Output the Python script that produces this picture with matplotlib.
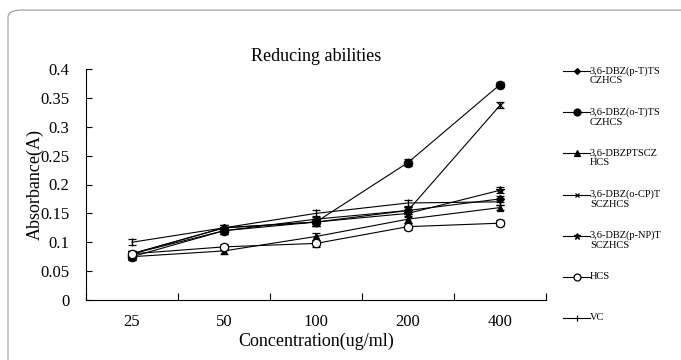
import numpy as np
import matplotlib.pyplot as plt
from matplotlib.lines import Line2D
from matplotlib.patches import FancyBboxPatch

plt.rcParams['font.family'] = ['Liberation Serif', 'DejaVu Serif']

concs = ["25", "50", "100", "200", "400"]
labels = ["3,6-DBZ(p-T)TS\nCZHCS", "3,6-DBZ(o-T)TS\nCZHCS", "3,6-DBZPTSCZ\nHCS",
          "3,6-DBZ(o-CP)T\nSCZHCS", "3,6-DBZ(p-NP)T\nSCZHCS", "HCS", "VC"]
p_t = [0.080, 0.125, 0.135, 0.155, 0.175]
o_t = [0.075, 0.120, 0.135, 0.238, 0.373]
ptscz = [0.075, 0.085, 0.110, 0.140, 0.160]
o_cp = [0.080, 0.120, 0.140, 0.155, 0.337]
p_np = [0.080, 0.125, 0.135, 0.150, 0.190]
hcs = [0.080, 0.092, 0.098, 0.127, 0.133]
vc = [0.100, 0.125, 0.150, 0.168, 0.170]
errs = [0.005, 0.005, 0.006, 0.006, 0.005]

series = [p_t, o_t, ptscz, o_cp, p_np, hcs, vc]
markers = [("D", 4, "k"), ("o", 6, "k"), ("^", 5, "k"), ("x", 4, "k"),
           ("*", 6, "k"), ("o", 6, "white"), ("|", 6, "k")]

fig = plt.figure(figsize=(6.81, 3.6), dpi=100)
# rounded frame around the whole figure (runs off the right and bottom)
fig.patches.append(FancyBboxPatch((8 / 681, -0.1), 1.1, 1.072,
                                  boxstyle="round,pad=0,rounding_size=0.02",
                                  transform=fig.transFigure, fill=False,
                                  edgecolor="#999999", lw=0.8))
ax = fig.add_axes([86 / 681, 60 / 360, 460 / 681, 231 / 360])

x = np.arange(len(concs))
for vals, (m, ms, fc) in zip(series, markers):
    ax.errorbar(x, vals, yerr=errs, color="k", lw=0.8, marker=m, ms=ms,
                mfc=fc, mec="k", mew=0.9, capsize=3, elinewidth=0.8, capthick=0.8)

ax.set_xlim(-0.5, len(concs) - 0.5)
ax.set_ylim(0, 0.4)
ax.set_yticks(np.arange(0, 0.401, 0.05))
ax.set_yticklabels(["0", "0.05", "0.1", "0.15", "0.2", "0.25", "0.3", "0.35", "0.4"])
ax.set_xticks(x)
ax.set_xticklabels(concs)
ax.set_xticks(np.arange(-0.5, len(concs), 1), minor=True)
ax.tick_params(axis="x", which="major", length=0, labelsize=12, pad=10)
ax.tick_params(axis="x", which="minor", direction="in", length=5, width=0.8)
ax.tick_params(axis="y", direction="in", length=4, width=0.8, labelsize=12, pad=12)
for s in ["top", "right"]:
    ax.spines[s].set_visible(False)
for s in ["left", "bottom"]:
    ax.spines[s].set_linewidth(0.8)

ax.set_title("Reducing abilities", fontsize=13, pad=6)
ax.set_xlabel("Concentration(ug/ml)", fontsize=13, labelpad=2)
ax.set_ylabel("Absorbance(A)", fontsize=13)
ax.yaxis.set_label_coords(-0.092, 0.5)

# legend drawn at the right of the plot
for i, (lab, (m, ms, fc)) in enumerate(zip(labels, markers)):
    yy = 1 - (71 + i * 41.2) / 360
    fig.add_artist(Line2D([563 / 681, 590 / 681], [yy, yy], color="k", lw=0.8,
                          transform=fig.transFigure))
    fig.add_artist(Line2D([577 / 681], [yy], marker=m, ms=ms - 1, mfc=fc, mec="k",
                          mew=0.9, color="k", transform=fig.transFigure))
    fig.text(590 / 681, yy + 5 / 360, lab, fontsize=7.5, va="top", ha="left",
             linespacing=1.1)

fig.savefig("out.png", dpi=100)
